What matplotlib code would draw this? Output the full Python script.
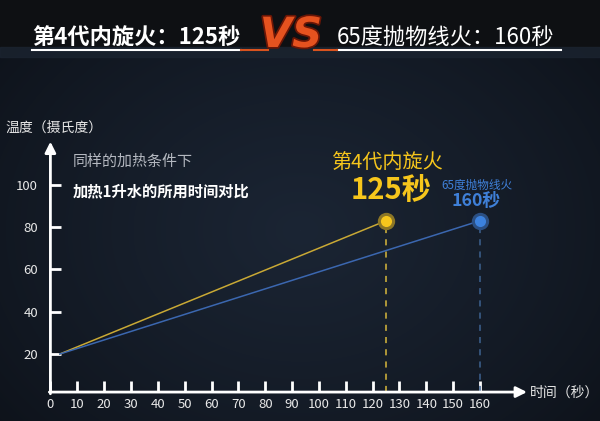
import numpy as np
import matplotlib
matplotlib.use("Agg")
import matplotlib.pyplot as plt
from matplotlib.lines import Line2D
from matplotlib.patches import Rectangle
import matplotlib.patheffects as pe

plt.rcParams['font.family'] = ['Noto Sans CJK SC', 'DejaVu Sans']

# ---- data ----
series_names = ["第4代内旋火", "65度抛物线火"]
heat_times = [125, 160]          # seconds to heat 1 L water
start_time = [3.5, 3.5]
start_temp = [20, 20]
end_temp = [83, 83]
x_ticks = list(range(10, 170, 10))
y_ticks = [20, 40, 60, 80, 100]
title_left = "第4代内旋火：125秒"
title_right = "65度抛物线火：160秒"
y_label = "温度（摄氏度）"
x_label = "时间（秒）"
note1 = "同样的加热条件下"
note2 = "加热1升水的所用时间对比"

W, H = 600, 421
fig = plt.figure(figsize=(6, 4.21), dpi=100)

def fx(px):
    return px / W

def fy(py):
    return 1 - py / H

# ---- background ----
ax_bg = fig.add_axes([0, 0, 1, 1], zorder=-10)
ax_bg.axis('off')
yy, xx = np.mgrid[0:H, 0:W]
r = np.sqrt(((xx - 300) / 420.0) ** 2 + ((yy - 230) / 330.0) ** 2)
f = np.clip(1 - r, 0, 1) ** 0.8
dark = np.array([0x0c, 0x10, 0x17]) / 255
light = np.array([0x1b, 0x25, 0x34]) / 255
img = dark[None, None, :] + (light - dark)[None, None, :] * f[:, :, None]
ax_bg.imshow(img, extent=[0, W, H, 0], aspect='auto')
ax_bg.set_xlim(0, W)
ax_bg.set_ylim(H, 0)
ax_bg.add_patch(Rectangle((0, 0), W, 47, color='#0e1013', zorder=2))
ax_bg.add_patch(Rectangle((0, 47), W, 10, color='#1b2430', alpha=0.8, zorder=2))

# ---- main axes ----
x0, xs = 50.4, 2.685
y0, ys = 396.3, 2.115
xlim = (-2, 180)
ylim = (-2, 125)
left = x0 + xlim[0] * xs
right = x0 + xlim[1] * xs
bottom = y0 - ylim[0] * ys
top = y0 - ylim[1] * ys
ax = fig.add_axes([fx(left), fy(bottom), fx(right) - fx(left), fy(top) - fy(bottom)])
ax.set_xlim(*xlim)
ax.set_ylim(*ylim)
ax.patch.set_alpha(0)
for s in ax.spines.values():
    s.set_visible(False)
ax.spines['bottom'].set_position(('data', 2))
ax.spines['left'].set_position(('data', 0))

ax.set_xticks([0] + x_ticks)
ax.set_xticklabels(["0"] + [str(t) for t in x_ticks])
ax.set_yticks(y_ticks)
ax.set_yticklabels([str(t) for t in y_ticks])
ax.tick_params(axis='x', direction='in', length=8, width=2, color='white',
               labelcolor='#e8e8e8', labelsize=9.5, pad=4)
ax.tick_params(axis='y', direction='in', length=8, width=2, color='white',
               labelcolor='#e8e8e8', labelsize=9.5, pad=9)

# axis arrows
ax.annotate('', xy=(177.5, 2), xytext=(-0.4, 2),
            arrowprops=dict(arrowstyle='-|>', color='white', lw=2,
                            mutation_scale=16, shrinkA=0, shrinkB=0),
            annotation_clip=False)
ax.annotate('', xy=(0, 120.4), xytext=(0, 1.2),
            arrowprops=dict(arrowstyle='-|>', color='white', lw=2,
                            mutation_scale=16, shrinkA=0, shrinkB=0),
            annotation_clip=False)

line_colors = ['#c9a935', '#3b67b0']
dash_colors = ['#d8b83c', '#3d6290']
fill_colors = ['#f6c61c', '#3c82de']
halo_colors = ['#8c7626', '#2b4f82']
for i in range(2):
    ax.plot([start_time[i], heat_times[i]], [start_temp[i], end_temp[i]],
            color=line_colors[i], lw=1.1, zorder=3)
    ax.plot([heat_times[i], heat_times[i]], [2, end_temp[i]],
            color=dash_colors[i], lw=1.1, ls=(0, (4, 4)), zorder=2)
    ax.plot(heat_times[i], end_temp[i], 'o', ms=12.5, color=halo_colors[i],
            mec='none', zorder=4)
    ax.plot(heat_times[i], end_temp[i], 'o', ms=8, color=fill_colors[i],
            mec='none', zorder=5)

# ---- texts ----
fig.text(fx(54), fy(128), y_label, ha='center', va='center',
         color='#e6e6e6', fontsize=10)
fig.text(fx(530), fy(393), x_label, ha='left', va='center',
         color='#e6e6e6', fontsize=10)
fig.text(fx(73), fy(162), note1, ha='left', va='center',
         color='#b4b8c0', fontsize=10.8)
fig.text(fx(73), fy(191), note2, ha='left', va='center',
         color='white', fontsize=11, fontweight='bold')

fig.text(fx(386.5), fy(163), series_names[0], ha='center', va='center',
         color='#f6c61c', fontsize=14.5)
fig.text(fx(391), fy(190), f"{heat_times[0]}秒", ha='center', va='center',
         color='#f6c61c', fontsize=21, fontweight='bold')
fig.text(fx(477), fy(185), series_names[1], ha='center', va='center',
         color='#3f80d8', fontsize=8.4)
fig.text(fx(476), fy(201), f"{heat_times[1]}秒", ha='center', va='center',
         color='#3f80d8', fontsize=12.8, fontweight='bold')

# title
fig.text(fx(32.5), fy(37), title_left, ha='left', va='center',
         color='white', fontsize=16, fontweight='bold')
fig.text(fx(337), fy(37), title_right, ha='left', va='center',
         color='white', fontsize=16)
fig.add_artist(Line2D([fx(32), fx(241)], [fy(50), fy(50)], color='white', lw=1.5))
fig.add_artist(Line2D([fx(337), fx(561)], [fy(50), fy(50)], color='white', lw=1.5))
fig.add_artist(Line2D([fx(241), fx(268)], [fy(50), fy(50)], color='#d9531e', lw=1.5))
fig.add_artist(Line2D([fx(314), fx(337)], [fy(50), fy(50)], color='#d9531e', lw=1.5))

vs_fx = [pe.withStroke(linewidth=2.5, foreground='#6a1606')]
fig.text(fx(291), fy(35), "VS", ha='center', va='center', color='#e5521f',
         fontsize=30, fontweight='bold', style='italic', family='DejaVu Sans',
         path_effects=vs_fx)

fig.savefig("out.png", dpi=100)
